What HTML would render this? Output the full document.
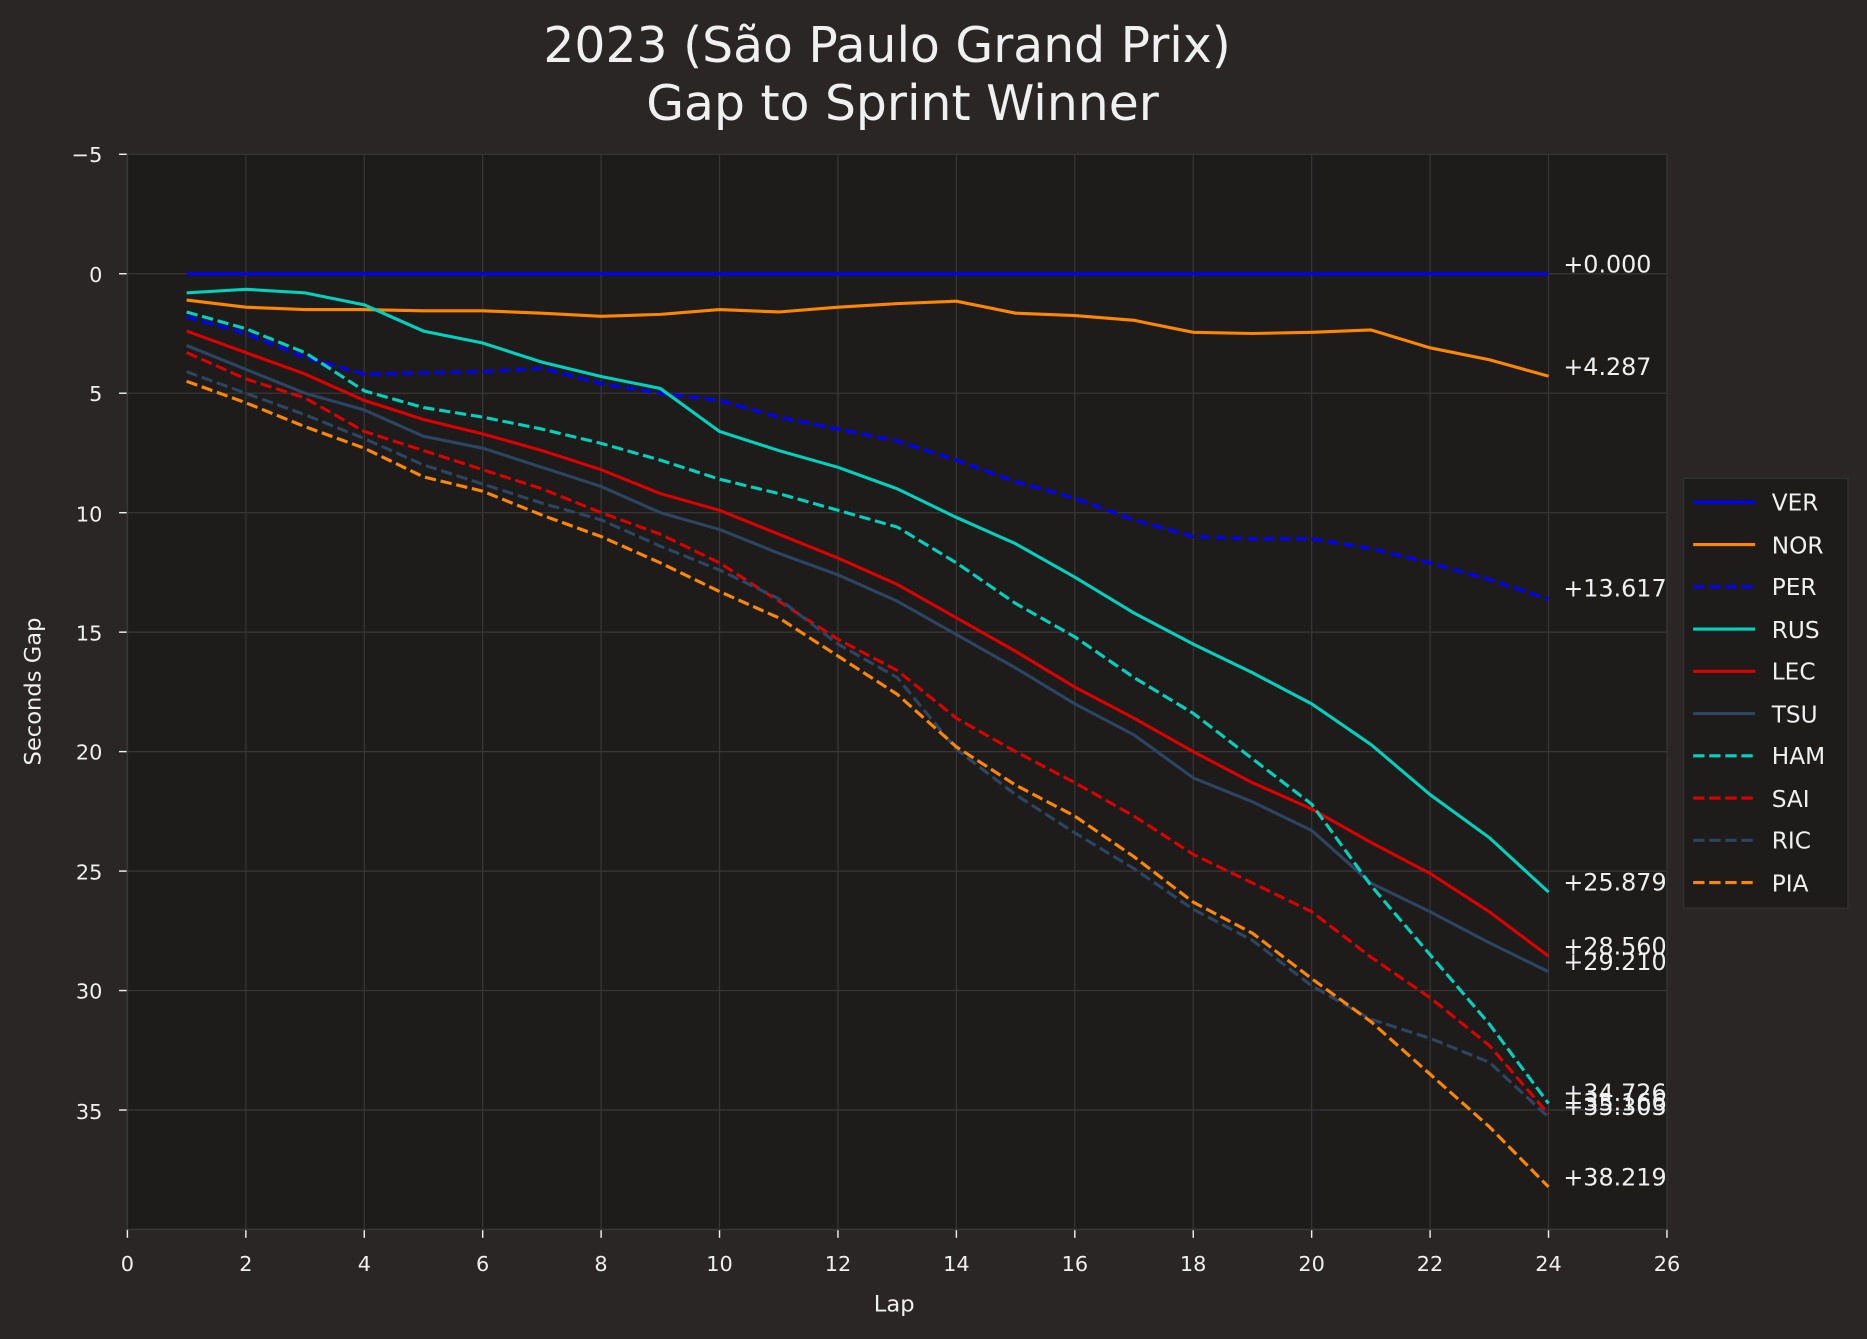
<!DOCTYPE html>
<html><head><meta charset="utf-8"><style>
html,body{margin:0;padding:0;background:#292625;}
svg{display:block}
text{font-family:"DejaVu Sans","Liberation Sans",sans-serif;fill:#f0f0f0}
</style></head><body>
<svg id="s" width="1867" height="1339" viewBox="0 0 1568 1125" preserveAspectRatio="none" xmlns="http://www.w3.org/2000/svg">
<rect x="0" y="0" width="1568" height="1125" fill="#292625"/>
<rect x="107" y="129" width="1293" height="904" fill="#1e1c1b"/>
<g id="grid" stroke="#393736" stroke-width="1"></g>
<g id="ticks" stroke="#f0f0f0" stroke-width="1.2"></g>
<g id="lines" fill="none" stroke-width="2.6"></g>
<line x1="107" y1="129" x2="107" y2="1033" stroke="#3a3837" stroke-width="1.2"/>
<line x1="107" y1="1033" x2="1400" y2="1033" stroke="#3a3837" stroke-width="1.2"/>
<g font-size="17.5" text-anchor="end">
<text x="86" y="136">−5</text><text x="86" y="237">0</text><text x="86" y="337">5</text>
<text x="86" y="438">10</text><text x="86" y="538">15</text><text x="86" y="638">20</text>
<text x="86" y="739">25</text><text x="86" y="839">30</text><text x="86" y="940">35</text>
</g>
<g font-size="17.5" text-anchor="middle">
<text x="107" y="1068">0</text><text x="206.5" y="1068">2</text><text x="306" y="1068">4</text>
<text x="405.4" y="1068">6</text><text x="504.8" y="1068">8</text><text x="604.3" y="1068">10</text>
<text x="703.8" y="1068">12</text><text x="803.2" y="1068">14</text><text x="902.7" y="1068">16</text>
<text x="1002.1" y="1068">18</text><text x="1101.6" y="1068">20</text><text x="1201" y="1068">22</text>
<text x="1300.5" y="1068">24</text><text x="1400" y="1068">26</text>
</g>
<text x="751" y="1102" font-size="19" text-anchor="middle">Lap</text>
<text x="0" y="0" font-size="19" text-anchor="middle" transform="translate(34,581) rotate(-90)">Seconds Gap</text>
<text x="745" y="52" font-size="41" text-anchor="middle">2023 (São Paulo Grand Prix)</text>
<text x="758" y="101" font-size="41" text-anchor="middle">Gap to Sprint Winner</text>
<g font-size="20">
<text x="1313" y="229">+0.000</text>
<text x="1313" y="315">+4.287</text>
<text x="1313" y="501">+13.617</text>
<text x="1313" y="748">+25.879</text>
<text x="1313" y="802">+28.560</text>
<text x="1313" y="815">+29.210</text>
<text x="1313" y="925">+34.726</text>
<text x="1313" y="933">+35.166</text>
<text x="1313" y="937">+35.303</text>
<text x="1313" y="996">+38.219</text>
</g>
<rect x="1414" y="402" width="138" height="361" fill="#1e1c1b" stroke="#333" stroke-width="1"/>
<g id="leg" stroke-width="2.6"></g>
<g font-size="19.5">
<text x="1488" y="429">VER</text><text x="1488" y="465">NOR</text><text x="1488" y="500">PER</text>
<text x="1488" y="536">RUS</text><text x="1488" y="571">LEC</text><text x="1488" y="607">TSU</text>
<text x="1488" y="642">HAM</text><text x="1488" y="678">SAI</text><text x="1488" y="713">RIC</text>
<text x="1488" y="749">PIA</text>
</g>
</svg>
<script>
var NS="http://www.w3.org/2000/svg";
function X(l){return 107+l*49.73}function Y(v){return 230+v*20.075}
function ln(par,x1,y1,x2,y2){var e=document.createElementNS(NS,'line');e.setAttribute('x1',x1);e.setAttribute('x2',x2);e.setAttribute('y1',y1);e.setAttribute('y2',y2);par.appendChild(e);return e;}
var g=document.getElementById('grid'),t=document.getElementById('ticks');
for(var l=0;l<=26;l+=2){ln(g,X(l),129,X(l),1033);ln(t,X(l),1033,X(l),1040);}
for(var v=-5;v<=35;v+=5){ln(g,107,Y(v),1400,Y(v));ln(t,100,Y(v),107,Y(v));}
var Z=[];for(var i=0;i<24;i++)Z.push(0);
var S=[
["#0000ff",0,Z],
["#ff8700",0,[1.1,1.4,1.5,1.5,1.55,1.55,1.65,1.78,1.7,1.5,1.6,1.4,1.25,1.15,1.65,1.75,1.95,2.45,2.5,2.45,2.35,3.1,3.6,4.287]],
["#0000ff",1,[1.8,2.5,3.5,4.2,4.15,4.1,3.95,4.6,5.0,5.3,6.0,6.5,7.0,7.8,8.7,9.4,10.3,11.0,11.1,11.1,11.5,12.1,12.8,13.617]],
["#00d2be",0,[0.8,0.65,0.8,1.3,2.4,2.9,3.7,4.3,4.8,6.6,7.4,8.1,9.0,10.2,11.3,12.7,14.2,15.5,16.7,18.0,19.7,21.8,23.6,25.879]],
["#dc0000",0,[2.4,3.3,4.2,5.3,6.1,6.7,7.4,8.2,9.2,9.9,10.9,11.9,13.0,14.4,15.8,17.3,18.6,20.0,21.3,22.4,23.8,25.1,26.7,28.56]],
["#2b4562",0,[3.0,4.0,5.0,5.7,6.8,7.3,8.1,8.9,10.0,10.7,11.7,12.6,13.7,15.1,16.5,18.0,19.3,21.1,22.1,23.3,25.5,26.7,28.0,29.21]],
["#00d2be",1,[1.6,2.3,3.3,4.9,5.6,6.0,6.5,7.1,7.8,8.6,9.2,9.9,10.6,12.1,13.8,15.2,16.9,18.4,20.3,22.2,25.6,28.5,31.4,34.726]],
["#dc0000",1,[3.3,4.4,5.2,6.6,7.4,8.2,9.0,10.0,10.9,12.1,13.7,15.3,16.6,18.6,20.0,21.3,22.7,24.3,25.5,26.7,28.6,30.3,32.3,35.166]],
["#2b4562",1,[4.1,5.0,5.9,6.9,8.0,8.8,9.6,10.3,11.4,12.4,13.6,15.5,16.9,19.9,21.8,23.4,24.9,26.6,27.9,29.8,31.2,32.0,33.0,35.303]],
["#ff8700",1,[4.5,5.4,6.4,7.3,8.5,9.1,10.1,11.0,12.1,13.3,14.4,16.0,17.6,19.8,21.4,22.7,24.4,26.3,27.6,29.5,31.3,33.5,35.7,38.219]]
];
var L=document.getElementById('lines'),G=document.getElementById('leg');
S.forEach(function(s,k){
 var p=document.createElementNS(NS,'polyline');
 p.setAttribute('points',s[2].map(function(v,i){return X(i+1)+','+Y(v)}).join(' '));
 p.setAttribute('stroke',s[0]);if(s[1])p.setAttribute('stroke-dasharray','9.5,4');
 L.appendChild(p);
 var y=422+k*35.5,e=ln(G,1422,y,1474,y);
 e.setAttribute('stroke',s[0]);if(s[1])e.setAttribute('stroke-dasharray','9.5,4');
});
</script>
</body></html>
